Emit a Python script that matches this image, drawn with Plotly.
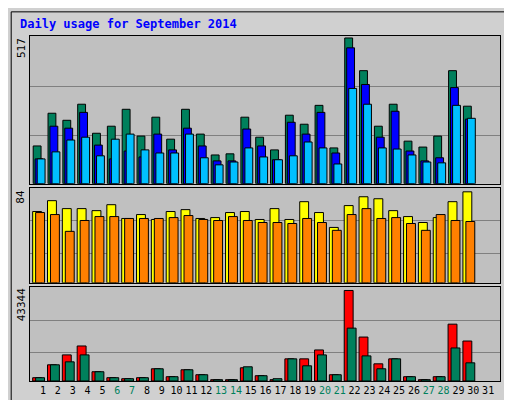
import plotly.graph_objects as go
from plotly.subplots import make_subplots

days = list(range(1, 32))
hits  = [134,250,225,282,179,204,264,169,236,158,264,176,102,106,236,165,120,243,211,278,127,517,401,204,282,151,130,169,401,275,None]
files = [88,204,197,253,137,88,116,95,176,120,197,134,81,81,194,134,85,218,176,253,109,482,352,165,257,116,81,92,341,229,None]
pages = [88,113,155,165,99,158,176,120,109,109,176,92,67,77,127,95,85,99,148,127,70,338,282,127,123,102,77,74,278,232,None]
visits = [63.7,73.4,66.3,66.3,64.5,69.8,57.5,61,56.6,63.7,65.4,57.5,58.3,62.8,63.7,56.6,66.3,56.6,72.5,62.8,49.5,69,76.9,75.1,64.5,59.2,53.9,58.3,72.5,81.3,None]
sites  = [62.8,61,46,55.7,59.2,59.2,57.5,57.5,57.5,58.3,60.1,56.6,55.7,59.2,55.7,53.9,53.9,53,57.5,53.9,46.9,61,66.3,57.5,58.3,53,46.9,61,55.7,54.8,None]
kbf = [1582,7752,12500,16770,4430,1582,1107,1582,5853,2057,5379,3006,633,633,6328,2531,633,10600,10600,14871,3006,43344,21041,8226,10600,2057,633,2057,27210,19142,None]
kbout = [1582,7752,9176,12500,4430,1582,1107,1582,5853,2057,5379,3006,633,633,6803,2531,1107,10600,7277,12500,3006,25312,12023,5853,10600,2057,633,2057,15820,8701,None]
weekend = {6,7,13,14,20,21,27,28}

fig = make_subplots(rows=3, cols=1, shared_xaxes=False)
line = dict(color="black", width=1)

def add(vals, off, w, color, row):
    fig.add_trace(go.Bar(x=[d + off for d in days], y=vals, width=w,
                         marker=dict(color=color, line=line), showlegend=False), row=row, col=1)

add(hits, -0.4, 0.53, "#00805C", 1)
add(files, -0.27, 0.53, "#0000FF", 1)
add(pages, -0.13, 0.53, "#00C0FF", 1)
add(visits, -0.4, 0.6, "#FFFF00", 2)
add(sites, -0.2, 0.6, "#FF8000", 2)
add(kbf, -0.4, 0.6, "#FF0000", 3)
add(kbout, -0.2, 0.6, "#00805C", 3)

fig.update_layout(
    width=512, height=400, barmode="overlay",
    margin=dict(l=22, r=20, t=28, b=24),
    paper_bgcolor="#D0D0D0", plot_bgcolor="#C0C0C0",
    font=dict(family="DejaVu Sans Mono", size=11, color="black"),
)
doms = [[199/348, 1], [99/348, 195/348], [0, 95/348]]
ranges = [524, 85, 45090]
grids = [[172, 345], [26.5, 55.7], [13688, 28743]]
for i in range(3):
    fig.update_yaxes(row=i+1, col=1, domain=doms[i], range=[0, ranges[i]],
                     tickvals=grids[i], showticklabels=False, ticks="",
                     gridcolor="#808080", gridwidth=1, showline=True, linecolor="black",
                     linewidth=1, mirror=True, zeroline=False)
    fig.update_xaxes(row=i+1, col=1, range=[0.12, 31.8], showgrid=False, showline=True,
                     linecolor="black", linewidth=1, mirror=True, ticks="",
                     showticklabels=(i == 2), tickvals=days, tickangle=0,
                     ticktext=[f"<span style='color:#00805C'>{d}</span>" if d in weekend else str(d) for d in days],
                     tickfont=dict(family="DejaVu Sans Mono", size=10))

fig.add_annotation(text="<b>Daily usage for September 2014</b>", xref="paper", yref="paper",
                   x=-0.025, y=1.0, yshift=12, xanchor="left", yanchor="middle", showarrow=False,
                   font=dict(color="#0000FF", size=12, family="DejaVu Sans Mono"))
for lbl, ytop in [("517", 1), ("84", 195/348), ("43344", 95/348)]:
    fig.add_annotation(text=lbl, xref="paper", yref="paper", x=0, xshift=-9, y=ytop, xanchor="center",
                       yanchor="top", textangle=-90, showarrow=False, font=dict(size=11))
right = [
    ("<span style='color:#00C0FF'>Pages</span> / <span style='color:#0000FF'>Files</span> / <span style='color:#00805C'>Hits</span>", 1),
    ("<span style='color:#FF8000'>Sites</span> / <span style='color:#FFFF00'>Visits</span>", 195/348),
    ("<span style='color:#FF0000'>kB F</span> / <span style='color:#0000FF'>kB In</span> / <span style='color:#00805C'>kB Out</span>", 95/348),
]
for t, ytop in right:
    fig.add_annotation(text=t, xref="paper", yref="paper", x=1, xshift=10, y=ytop, xanchor="center",
                       yanchor="top", textangle=90, showarrow=False,
                       font=dict(size=11, color="black"))
fig.add_shape(type="rect", xref="paper", yref="paper", x0=-0.04, x1=1.04, y0=-0.06, y1=1.07,
              line=dict(color="black", width=1), layer="below")
fig.write_html("out.html")
